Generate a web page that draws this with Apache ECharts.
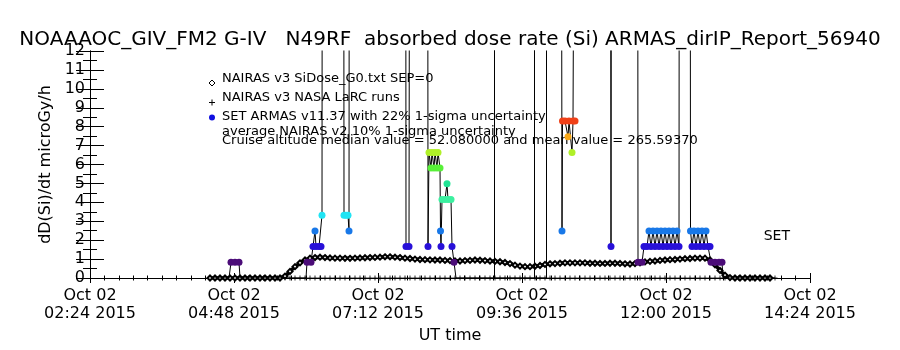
<!DOCTYPE html>
<html>
<head>
<meta charset="utf-8">
<script src="https://cdn.jsdelivr.net/npm/echarts@6/dist/echarts.min.js"></script>
<style>
  html, body { margin: 0; padding: 0; background: #fff; }
  #chart { width: 900px; height: 350px; }
</style>
</head>
<body>
<div id="chart"></div>
<script>
// tick labels of the time axis (minutes after 02:24 UT, one label every 144 min)
const tickDay = ['Oct 02', 'Oct 02', 'Oct 02', 'Oct 02', 'Oct 02', 'Oct 02'];
const tickTime = ['02:24 2015', '04:48 2015', '07:12 2015', '09:36 2015', '12:00 2015', '14:24 2015'];

// NAIRAS v3 SiDose profile, one value every 5 min from 04:24
const profileStart = 120;
const profileStep = 5;
const profileDose = [
  0, 0, 0, 0, 0, 0, 0, 0, 0, 0, 0, 0, 0, 0, 0,
  0.1, 0.35, 0.6, 0.8, 0.95, 1.05, 1.08, 1.1,
  1.08, 1.06, 1.05, 1.05, 1.04, 1.04, 1.05, 1.06, 1.07, 1.08, 1.09, 1.1, 1.12, 1.12, 1.1, 1.08,
  1.05, 1.03, 1.0, 0.98, 0.97, 0.96, 0.95, 0.95, 0.93, 0.92, 0.9, 0.9, 0.92, 0.93, 0.95, 0.94, 0.92, 0.9, 0.88, 0.86,
  0.82, 0.76, 0.68, 0.63, 0.6, 0.6, 0.62, 0.66, 0.72, 0.75, 0.76, 0.78, 0.8, 0.8, 0.8, 0.8, 0.8, 0.78, 0.78, 0.77,
  0.77, 0.78, 0.78, 0.77, 0.75, 0.74, 0.76, 0.8, 0.85, 0.88, 0.9, 0.93, 0.95, 0.97, 0.98, 1.0, 1.02, 1.03, 1.05, 1.05,
  1.05, 0.95, 0.7, 0.4, 0.15, 0.02,
  0, 0, 0, 0, 0, 0, 0, 0
];

// NAIRAS v3 NASA LaRC runs, one value every 5 min from 04:24
const larcStart = 120;
const larcStep = 5;
const larcDose = [
  0, 0, 0, 0, 0, 0, 0, 0, 0, 0, 0, 0, 0, 0, 0, 0, 0, 0, 0, 0,
  0, 0, 0, 0, 0, 0, 0, 0, 0, 0, 0, 0, 0, 0, 0, 0, 0, 0, 0, 0,
  0, 0, 0, 0, 0, 0, 0, 0, 0, 0, 0, 0, 0, 0, 0, 0, 0, 0, 0, 0,
  0, 0, 0, 0, 0, 0, 0, 0, 0, 0, 0, 0, 0, 0, 0, 0, 0, 0, 0, 0,
  0, 0, 0, 0, 0, 0, 0, 0, 0, 0, 0, 0, 0, 0, 0, 0, 0, 0, 0, 0,
  0, 0, 0, 0, 0, 0, 0, 0, 0, 0, 0, 0, 0, 0
];

// SET ARMAS v11.37 samples: minutes after 02:24 and dose rate (40 = off scale)
const armasMinutes = [
  122, 139, 141, 145, 149, 150, 216, 217, 221, 223, 225, 226, 229, 231, 232, 232.5,
  253.5, 254, 256, 258, 259, 259.5, 315.5, 316, 319, 320, 337.5, 338, 339, 341, 342, 344,
  345, 347, 348, 350, 350.5, 351, 352, 355, 357, 358, 361, 362, 364, 366, 404.5, 404.5, 404.5,
  444.5, 444.5, 444.5, 456.5, 456.5, 471, 472, 472.5, 475, 478, 479, 482, 483, 485, 485.5, 520.5,
  521, 521.5, 547.5, 548, 552, 554, 557, 559, 561, 563, 565, 567, 569, 571, 573, 575, 577,
  579, 581, 583, 585, 587, 589, 589.5, 600, 600.5, 602, 604, 606, 608, 610, 612, 614, 616,
  618, 620, 621, 625, 629, 632, 633, 685
];
const armasDose = [
  0, 0, 0.83, 0.83, 0.83, 0, 0, 0.83, 0.83, 1.66, 2.49, 1.66, 1.66, 1.66, 3.32, 40,
  40, 3.32, 3.32, 3.32, 2.49, 40, 40, 1.66, 1.66, 40, 40, 1.66, 6.64, 5.81, 6.64, 5.81,
  6.64, 5.81, 6.64, 5.81, 2.49, 1.66, 4.15, 4.15, 4.98, 4.15, 4.15, 1.66, 0.83, 0, 0, 40, 0,
  0, 40, 0, 0, 40, 40, 2.49, 8.3, 8.3, 7.47, 8.3, 6.64, 8.3, 8.3, 40, 40,
  1.66, 40, 40, 0.83, 0.83, 1.66, 1.66, 2.49, 1.66, 2.49, 1.66, 2.49, 1.66, 2.49, 1.66, 2.49, 1.66,
  2.49, 1.66, 2.49, 1.66, 2.49, 1.66, 40, 40, 2.49, 1.66, 2.49, 1.66, 2.49, 1.66, 2.49, 1.66, 2.49,
  1.66, 1.66, 0.83, 0.83, 0.83, 0.83, 0, 0
];

// colour of an ARMAS dot by dose level (step of one ARMAS count)
const armasStep = 0.83;
const armasColors = ['#000000', '#4b0c78', '#2810d8', '#1878e8', '#20e4f4', '#3cf0a0',
  '#20e494', '#58f038', '#b0f028', '#f8a818', '#f04018'];

const legendLines = [
  'NAIRAS v3 SiDose_G0.txt SEP=0',
  'NAIRAS v3 NASA LaRC runs',
  'SET ARMAS v11.37 with 22% 1-sigma uncertainty',
  'average NAIRAS v2 10% 1-sigma uncertainty',
  'Cruise altitude median value = 52.080000 and mean value = 265.59370'
];

const FONT = 'DejaVu Sans';

function armasPoint(t, v) {
  const lvl = Math.min(armasColors.length - 1, Math.round(v / armasStep));
  // samples at zero sit on the axis and are not drawn as dots
  return { value: [t, v], symbolSize: lvl === 0 ? 0 : 7, itemStyle: { color: armasColors[lvl] } };
}

const chart = echarts.init(document.getElementById('chart'));

const xMajor = {
  type: 'value',
  min: 0,
  max: 720,
  interval: 144,
  axisLine: { lineStyle: { color: '#000', width: 1 } },
  axisTick: { inside: true, length: 5, lineStyle: { color: '#000' } },
  splitLine: { show: false }
};
// second set of axes only for the small inner ticks
const xMinor = {
  type: 'value',
  min: 0,
  max: 720,
  interval: 14.4,
  axisLine: { show: false },
  axisTick: { inside: true, length: 2.5, lineStyle: { color: '#000' } },
  axisLabel: { show: false },
  splitLine: { show: false }
};
const yMajor = {
  type: 'value',
  min: 0,
  max: 12,
  interval: 1,
  axisLine: { show: true, lineStyle: { color: '#000', width: 1 } },
  axisTick: { show: true, inside: true, length: 14, lineStyle: { color: '#000' } },
  splitLine: { show: false }
};
const yMinor = {
  type: 'value',
  min: 0,
  max: 12,
  interval: 0.5,
  axisLine: { show: false },
  axisTick: { show: true, inside: true, length: 7, lineStyle: { color: '#000' } },
  axisLabel: { show: false },
  splitLine: { show: false }
};

const textFont = size => size + 'px "' + FONT + '"';

const option = {
  animation: false,
  backgroundColor: '#fff',
  title: {
    text: 'NOAAAOC_GIV_FM2 G-IV   N49RF  absorbed dose rate (Si) ARMAS_dirIP_Report_56940',
    left: 'center',
    top: 25,
    textStyle: { fontFamily: FONT, fontSize: 20, fontWeight: 'normal', color: '#000' }
  },
  grid: { left: 90, right: 90, top: 51, bottom: 72 },
  xAxis: [
    Object.assign({}, xMajor, {
      position: 'bottom',
      name: 'UT time',
      nameLocation: 'middle',
      nameGap: 46,
      nameTextStyle: { fontFamily: FONT, fontSize: 16, color: '#000' },
      axisLabel: {
        margin: 9,
        fontFamily: FONT,
        fontSize: 16,
        lineHeight: 18,
        color: '#000',
        formatter: v => {
          const i = Math.round(v / 144);
          return tickDay[i] + '\n' + tickTime[i];
        }
      }
    }),
    Object.assign({}, xMajor, { position: 'top', axisLabel: { show: false } }),
    Object.assign({}, xMinor, { position: 'bottom' }),
    Object.assign({}, xMinor, { position: 'top' })
  ],
  yAxis: [
    Object.assign({}, yMajor, {
      position: 'left',
      name: 'dD(Si)/dt microGy/h',
      nameLocation: 'middle',
      nameGap: 33,
      nameTextStyle: { fontFamily: FONT, fontSize: 16, color: '#000' },
      axisLabel: { margin: 5, fontFamily: FONT, fontSize: 16, color: '#000' }
    }),
    Object.assign({}, yMajor, { position: 'right', axisLabel: { show: false } }),
    Object.assign({}, yMinor, { position: 'left' }),
    Object.assign({}, yMinor, { position: 'right' })
  ],
  graphic: [
    // legend symbols
    { type: 'polygon', shape: { points: [[212, 80], [215, 83], [212, 86], [209, 83]] },
      style: { fill: '#fff', stroke: '#000', lineWidth: 1 } },
    { type: 'polyline', shape: { points: [[209, 102.5], [215, 102.5]] }, style: { stroke: '#000', lineWidth: 1 } },
    { type: 'polyline', shape: { points: [[212, 99.5], [212, 105.5]] }, style: { stroke: '#000', lineWidth: 1 } },
    { type: 'circle', shape: { cx: 212, cy: 117.5, r: 3 }, style: { fill: '#1010e0' } },
    // legend text
    { type: 'text', left: 222, top: 72, style: { text: legendLines[0], font: textFont(13), fill: '#000' } },
    { type: 'text', left: 222, top: 91, style: { text: legendLines[1], font: textFont(13), fill: '#000' } },
    { type: 'text', left: 222, top: 110, style: { text: legendLines[2], font: textFont(13), fill: '#000' } },
    { type: 'text', left: 222, top: 125, style: { text: legendLines[3], font: textFont(13), fill: '#000' } },
    { type: 'text', left: 222, top: 134, style: { text: legendLines[4], font: textFont(13), fill: '#000' } },
    { type: 'text', right: 110, top: 229, style: { text: 'SET', font: textFont(14), fill: '#000' } }
  ],
  series: [
    {
      name: 'NAIRAS v3 NASA LaRC runs',
      type: 'scatter',
      symbol: 'path://M0,5L10,5M5,0L5,10',
      symbolSize: 5,
      itemStyle: { color: 'none', borderColor: '#000', borderWidth: 1 },
      data: larcDose.map((v, i) => [larcStart + i * larcStep, v]),
      z: 2
    },
    {
      name: 'NAIRAS v3 SiDose_G0.txt SEP=0',
      type: 'line',
      symbol: 'emptyDiamond',
      symbolSize: 5,
      showAllSymbol: true,
      lineStyle: { color: '#000', width: 3.5 },
      itemStyle: { color: '#000', borderColor: '#000', borderWidth: 1 },
      data: profileDose.map((v, i) => [profileStart + i * profileStep, v]),
      z: 3
    },
    {
      name: 'SET ARMAS v11.37',
      type: 'line',
      clip: true,
      symbol: 'circle',
      showAllSymbol: true,
      lineStyle: { color: '#000', width: 1 },
      itemStyle: { borderWidth: 0 },
      data: armasMinutes.map((t, i) => armasPoint(t, armasDose[i])),
      z: 4
    }
  ]
};

chart.setOption(option);
window.addEventListener('resize', () => chart.resize());
</script>
</body>
</html>
